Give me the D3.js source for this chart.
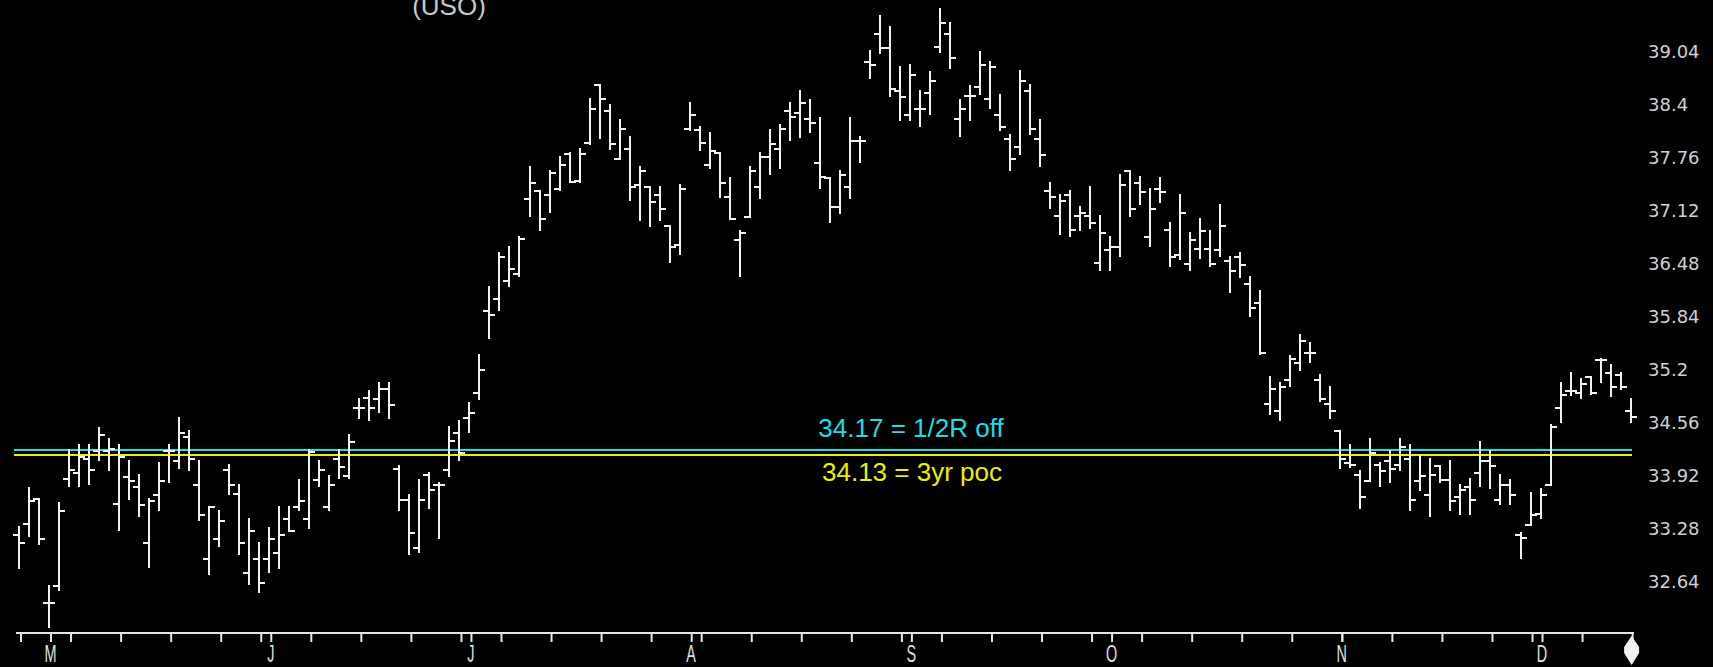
<!DOCTYPE html>
<html>
<head>
<meta charset="utf-8">
<script src="https://cdn.jsdelivr.net/npm/d3@7/dist/d3.min.js"></script>
<style>
  body { margin: 0; background: #000; overflow: hidden; }
</style>
</head>
<body>
<div id="chart"></div>
<script>
// daily bars, 26 Apr 2013 .. 13 Dec 2013 (trading days only)
const firstDay = "2013-04-26";
const lastDay = "2013-12-13";
const holidays = ["2013-05-27", "2013-07-04", "2013-09-02", "2013-11-28"];

const opens = [
  33.15, 33.29, 33.59, 32.33, 32.54, 33.83, 33.90, 34.07, 34.17, 34.17,
  33.53, 33.85, 33.73, 33.05, 33.63, 34.17, 34.04, 34.33, 33.75, 32.86,
  33.10, 33.94, 33.65, 32.69, 32.86, 32.86, 32.93, 33.34, 33.49, 33.34,
  33.82, 33.49, 34.07, 33.86, 34.69, 34.81, 34.79, 34.91, 33.95, 33.58,
  33.00, 33.87, 33.75, 33.94, 34.38, 34.57, 34.87, 35.86, 36.00, 36.22,
  36.30, 37.21, 37.31, 37.26, 37.33, 37.75, 37.43, 37.89, 38.59, 38.28,
  37.70, 37.81, 37.38, 37.36, 37.26, 36.88, 36.66, 38.06, 38.04, 37.62,
  37.77, 37.24, 36.72, 36.99, 37.35, 37.72, 37.82, 38.28, 38.25, 38.18,
  37.64, 37.46, 37.11, 37.35, 37.91, 38.86, 39.20, 39.04, 38.52, 38.23,
  38.30, 38.49, 39.05, 39.20, 38.18, 38.46, 38.56, 38.42, 38.23, 37.94,
  37.84, 38.52, 37.94, 37.31, 37.00, 37.26, 37.00, 37.00, 36.44, 36.59,
  36.63, 37.55, 37.41, 36.75, 37.33, 36.84, 36.54, 36.42, 36.61, 36.61,
  36.59, 36.46, 36.51, 36.18, 35.96, 34.73, 34.65, 35.02, 35.23, 35.35,
  35.02, 34.73, 34.41, 34.02, 33.88, 33.80, 34.00, 34.05, 34.00, 34.07,
  33.80, 33.64, 33.99, 33.82, 33.61, 33.73, 33.90, 34.05, 33.58, 33.76,
  33.15, 33.27, 33.41, 33.75, 34.69, 34.89, 34.87, 35.06, 35.27, 35.11,
  35.09, 34.65
];
const highs = [
  33.25, 33.72, 33.59, 32.53, 33.54, 34.18, 34.24, 34.24, 34.44, 34.31,
  34.24, 34.05, 33.88, 33.59, 34.02, 34.24, 34.56, 34.41, 34.05, 33.49,
  33.44, 34.00, 33.75, 33.34, 33.06, 33.23, 33.49, 33.49, 33.81, 34.18,
  34.05, 33.86, 34.18, 34.36, 34.80, 34.89, 34.99, 34.99, 33.98, 33.64,
  33.81, 33.90, 33.78, 34.46, 34.53, 34.75, 35.33, 36.15, 36.56, 36.63,
  36.75, 37.60, 37.31, 37.55, 37.72, 37.77, 37.82, 38.42, 38.59, 38.35,
  38.16, 37.96, 37.60, 37.36, 37.36, 36.88, 37.38, 38.37, 38.08, 38.01,
  37.77, 37.46, 36.83, 37.60, 37.77, 38.04, 38.11, 38.37, 38.52, 38.41,
  38.19, 37.46, 37.55, 38.19, 37.96, 39.00, 39.42, 39.29, 38.81, 38.83,
  38.52, 38.74, 39.51, 39.34, 38.41, 38.58, 38.99, 38.87, 38.47, 37.99,
  38.76, 38.59, 38.16, 37.41, 37.26, 37.31, 37.12, 37.36, 37.00, 36.75,
  37.50, 37.55, 37.48, 37.33, 37.46, 36.92, 37.26, 36.80, 36.97, 36.83,
  37.14, 36.51, 36.56, 36.27, 36.10, 35.06, 34.99, 35.31, 35.57, 35.47,
  35.09, 34.94, 34.41, 34.24, 33.93, 34.31, 34.02, 34.17, 34.31, 34.24,
  34.10, 34.07, 33.99, 34.05, 33.76, 33.83, 34.27, 34.17, 33.88, 33.81,
  33.18, 33.66, 33.71, 34.48, 34.99, 35.11, 35.04, 35.06, 35.28, 35.21,
  35.11, 34.80
];
const lows = [
  32.75, 33.14, 33.04, 32.04, 32.49, 33.74, 33.74, 33.77, 34.06, 33.94,
  33.21, 33.59, 33.38, 32.77, 33.45, 33.79, 33.96, 33.94, 33.33, 32.68,
  33.02, 33.65, 32.92, 32.56, 32.46, 32.70, 32.75, 33.20, 33.45, 33.24,
  33.74, 33.45, 33.84, 33.84, 34.56, 34.54, 34.64, 34.56, 33.45, 32.92,
  32.95, 33.48, 33.11, 33.86, 34.06, 34.40, 34.80, 35.53, 35.87, 36.16,
  36.28, 37.01, 36.84, 37.05, 37.32, 37.42, 37.42, 37.88, 37.95, 37.82,
  37.69, 37.20, 36.96, 36.88, 36.96, 36.45, 36.55, 38.04, 37.80, 37.59,
  37.23, 36.97, 36.28, 36.99, 37.22, 37.51, 37.58, 37.92, 37.96, 38.02,
  37.34, 36.93, 37.04, 37.22, 37.66, 38.67, 38.97, 38.45, 38.16, 38.16,
  38.09, 38.24, 38.99, 38.79, 37.97, 38.16, 38.48, 38.31, 38.05, 37.56,
  37.76, 38.00, 37.61, 37.10, 36.79, 36.76, 36.84, 36.86, 36.35, 36.35,
  36.52, 37.01, 37.15, 36.64, 37.17, 36.40, 36.48, 36.35, 36.50, 36.40,
  36.52, 36.09, 36.27, 35.80, 35.34, 34.61, 34.54, 34.95, 35.14, 35.24,
  34.77, 34.56, 33.96, 33.97, 33.48, 33.80, 33.74, 33.79, 33.94, 33.45,
  33.69, 33.38, 33.79, 33.45, 33.40, 33.40, 33.74, 33.72, 33.53, 33.53,
  32.87, 33.27, 33.36, 33.75, 34.52, 34.84, 34.81, 34.85, 35.00, 34.83,
  34.91, 34.52
];
const closes = [
  33.05, 33.56, 33.10, 32.33, 33.44, 33.94, 34.09, 33.94, 34.36, 34.19,
  34.09, 33.80, 33.51, 33.56, 33.80, 34.17, 34.38, 34.07, 33.39, 33.49,
  33.32, 33.75, 33.05, 33.20, 32.57, 33.10, 33.15, 33.20, 33.56, 34.15,
  33.94, 33.75, 33.97, 34.28, 34.69, 34.69, 34.91, 34.72, 33.58, 33.17,
  33.58, 33.70, 33.75, 34.29, 34.14, 34.62, 35.15, 35.81, 36.51, 36.37,
  36.73, 37.41, 36.97, 37.53, 37.62, 37.42, 37.76, 38.30, 38.42, 37.87,
  38.06, 37.36, 37.55, 37.17, 37.09, 36.63, 37.33, 38.23, 37.89, 37.79,
  37.41, 36.97, 36.80, 37.55, 37.72, 37.87, 38.06, 38.20, 38.37, 38.13,
  37.48, 37.11, 37.50, 37.91, 37.91, 38.83, 39.04, 38.54, 38.44, 38.71,
  38.30, 38.64, 39.34, 38.91, 38.30, 38.45, 38.83, 38.80, 38.08, 37.69,
  38.64, 38.06, 37.74, 37.24, 37.19, 36.84, 37.04, 36.92, 36.80, 36.63,
  37.38, 37.09, 37.29, 37.09, 37.29, 36.51, 37.04, 36.71, 36.83, 36.42,
  36.88, 36.34, 36.41, 35.89, 35.35, 34.92, 34.94, 35.28, 35.50, 35.35,
  34.80, 34.65, 34.07, 34.00, 33.61, 34.14, 33.93, 33.95, 34.21, 33.58,
  33.86, 33.88, 33.82, 33.56, 33.69, 33.58, 34.05, 33.99, 33.76, 33.64,
  33.12, 33.39, 33.64, 34.46, 34.84, 34.89, 34.98, 34.87, 35.27, 34.94,
  34.94, 34.58
];

const priceTicks = [39.04, 38.4, 37.76, 37.12, 36.48, 35.84, 35.2, 34.56, 33.92, 33.28, 32.64];
const levelValues = [34.17, 34.13];
const levelLabels = ["34.17 = 1/2R off", "34.13 = 3yr poc"];
const titleText = "(USO)";

const width = 1713, height = 667;

const parse = d3.timeParse("%Y-%m-%d");
const fmt = d3.timeFormat("%Y-%m-%d");
const dates = d3.timeDay.range(parse(firstDay), d3.timeDay.offset(parse(lastDay), 1))
    .filter(d => d.getDay() > 0 && d.getDay() < 6 && holidays.indexOf(fmt(d)) < 0);

const n = opens.length;
const x = d3.scaleLinear().domain([0, n - 1]).range([19, 19 + (n - 1) * 10.01]);
const y = d3.scaleLinear().domain([32.64, 39.04]).range([577.3, 47.6]);

const svg = d3.select("#chart").append("svg")
    .attr("width", width)
    .attr("height", height)
    .style("background", "#000")
    .style("display", "block");

// title (its first line runs off the top in the original)
svg.append("text")
    .attr("x", 449)
    .attr("y", 15)
    .attr("text-anchor", "middle")
    .style("font-family", "Liberation Sans, Arial, sans-serif")
    .style("font-size", "26px")
    .style("fill", "#c8c8c8")
    .text(titleText);

// reference levels, pulled 1px apart so both stay visible
const levelColors = ["#1fdde6", "#eeee00"];
const levelNudge = [-1, 1];
levelValues.forEach(function (v, k) {
    const ly = Math.round(y(v)) + levelNudge[k];
    svg.append("line")
        .attr("x1", 14).attr("x2", 1632)
        .attr("y1", ly).attr("y2", ly)
        .style("stroke", levelColors[k])
        .style("stroke-width", 2);
});
svg.append("text")
    .attr("x", 911).attr("y", 437)
    .attr("text-anchor", "middle")
    .style("font-family", "Liberation Sans, Arial, sans-serif")
    .style("font-size", "26px")
    .style("fill", levelColors[0])
    .text(levelLabels[0]);
svg.append("text")
    .attr("x", 912).attr("y", 481)
    .attr("text-anchor", "middle")
    .style("font-family", "Liberation Sans, Arial, sans-serif")
    .style("font-size", "26px")
    .style("fill", levelColors[1])
    .text(levelLabels[1]);

// OHLC bars
const bars = d3.range(n);
svg.append("g").selectAll("path")
    .data(bars)
    .enter()
    .append("path")
    .attr("d", function (i) {
        const cx = Math.round(x(i));
        return "M" + cx + "," + Math.round(y(highs[i]) - 1) + "V" + Math.round(y(lows[i]) + 1) +
            "M" + (cx - 6) + "," + Math.round(y(opens[i])) + "H" + cx +
            "M" + cx + "," + Math.round(y(closes[i])) + "H" + (cx + 6);
    })
    .style("fill", "none")
    .style("stroke", "#f2f2f2")
    .style("stroke-width", 2);

// price labels on the right
const yAxis = svg.append("g")
    .attr("transform", "translate(1648,4)")
    .call(d3.axisRight(y).tickValues(priceTicks).tickSize(0).tickPadding(0)
        .tickFormat(d => String(d)));
yAxis.select(".domain").remove();
yAxis.selectAll("text")
    .style("font-family", "DejaVu Sans, sans-serif")
    .style("font-size", "18px")
    .style("fill", "#d0d0d0");

// time axis: weekly ticks on last trading day of each week, extra tick at month start
const weekTicks = bars.filter(i => i === n - 1 ||
    +d3.timeWeek.floor(dates[i]) !== +d3.timeWeek.floor(dates[i + 1]));
const monthStarts = bars.filter(i => i > 0 && dates[i].getMonth() !== dates[i - 1].getMonth());

const axisY = 633;
const xAxis = svg.append("g")
    .attr("transform", "translate(1.5," + axisY + ")")
    .call(d3.axisBottom(x).tickValues(weekTicks.concat(monthStarts))
        .tickSize(9).tickSizeOuter(0).tickFormat(""));
xAxis.select(".domain").remove();
xAxis.selectAll(".tick line")
    .style("stroke", "#e6e6e6")
    .style("stroke-width", 2);

svg.append("line")
    .attr("x1", 16).attr("x2", 1634)
    .attr("y1", axisY).attr("y2", axisY)
    .style("stroke", "#e6e6e6")
    .style("stroke-width", 2);

svg.append("g").selectAll("text")
    .data(monthStarts)
    .enter()
    .append("text")
    .attr("transform", i => "translate(" + (x(i) + 1.5) + ",662) scale(0.6,1)")
    .attr("text-anchor", "middle")
    .style("font-family", "Liberation Sans, Arial, sans-serif")
    .style("font-size", "24px")
    .style("fill", "#e0e0e0")
    .text(i => d3.timeFormat("%b")(dates[i]).charAt(0));

// end-of-data marker
const lastX = x(n - 1) + 1;
svg.append("polygon")
    .attr("points", [
        [lastX, 636], [lastX + 7.5, 647], [lastX + 7.5, 653], [lastX, 665],
        [lastX - 7.5, 653], [lastX - 7.5, 647]
    ].map(p => p.join(",")).join(" "))
    .style("fill", "#f2f2f2");
</script>
</body>
</html>
